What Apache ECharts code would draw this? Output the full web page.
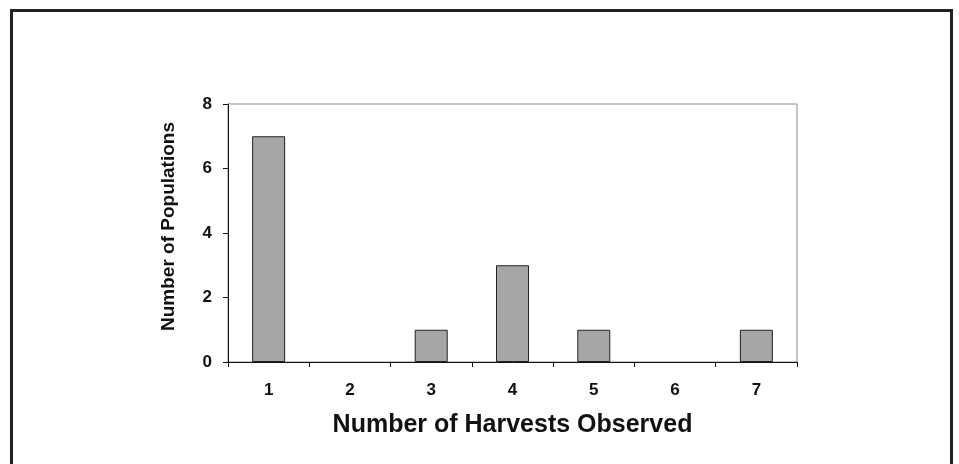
<!DOCTYPE html>
<html><head><meta charset="utf-8">
<script src="https://cdn.jsdelivr.net/npm/echarts@6/dist/echarts.min.js"></script>
<style>html,body{margin:0;padding:0;background:#fff}#c{width:959px;height:464px}</style>
</head><body><div id="c"></div>
<script>
const categories = ['1','2','3','4','5','6','7'];
const populations = [7, 0, 1, 3, 1, 0, 1];
const xTitle = 'Number of Harvests Observed';
const yTitle = 'Number of Populations';

const chart = echarts.init(document.getElementById('c'), null, {renderer:'canvas'});
const font = 'Liberation Sans, Arial, sans-serif';
chart.setOption({
  animation: false,
  backgroundColor: '#fff',
  graphic: [{
    type: 'rect', shape: {x: 11.5, y: 10.5, width: 940, height: 470},
    style: {fill: 'none', stroke: '#222', lineWidth: 3}
  }],
  grid: {left: 228, top: 104, width: 569, height: 258, show: true, borderColor: '#8c8c8c', borderWidth: 1, backgroundColor: 'transparent'},
  xAxis: {
    type: 'category', data: categories,
    axisLine: {lineStyle: {color: '#111', width: 1}},
    axisTick: {show: true, length: 5, lineStyle: {color: '#111'}},
    axisLabel: {color: '#111', fontFamily: font, fontWeight: 'bold', fontSize: 17, margin: 20},
    name: xTitle, nameLocation: 'middle', nameGap: 51,
    nameTextStyle: {color: '#111', fontFamily: font, fontWeight: 'bold', fontSize: 25}
  },
  yAxis: {
    type: 'value', min: 0, max: 8, interval: 2,
    axisLine: {show: true, lineStyle: {color: '#111', width: 1}},
    axisTick: {show: true, length: 5, lineStyle: {color: '#111'}},
    splitLine: {show: false},
    axisLabel: {color: '#111', fontFamily: font, fontWeight: 'bold', fontSize: 17, margin: 16},
    name: yTitle, nameLocation: 'middle', nameGap: 50, nameRotate: 90,
    nameTextStyle: {color: '#111', fontFamily: font, fontWeight: 'bold', fontSize: 19, padding: [0, 0, 0, 13]}
  },
  series: [{
    type: 'bar', barWidth: 33,
    data: populations.map(v => v === 0 ? {value: v, itemStyle: {borderWidth: 0}} : v),
    itemStyle: {color: '#a6a6a6', borderColor: '#222', borderWidth: 1}
  }]
});
</script></body></html>
